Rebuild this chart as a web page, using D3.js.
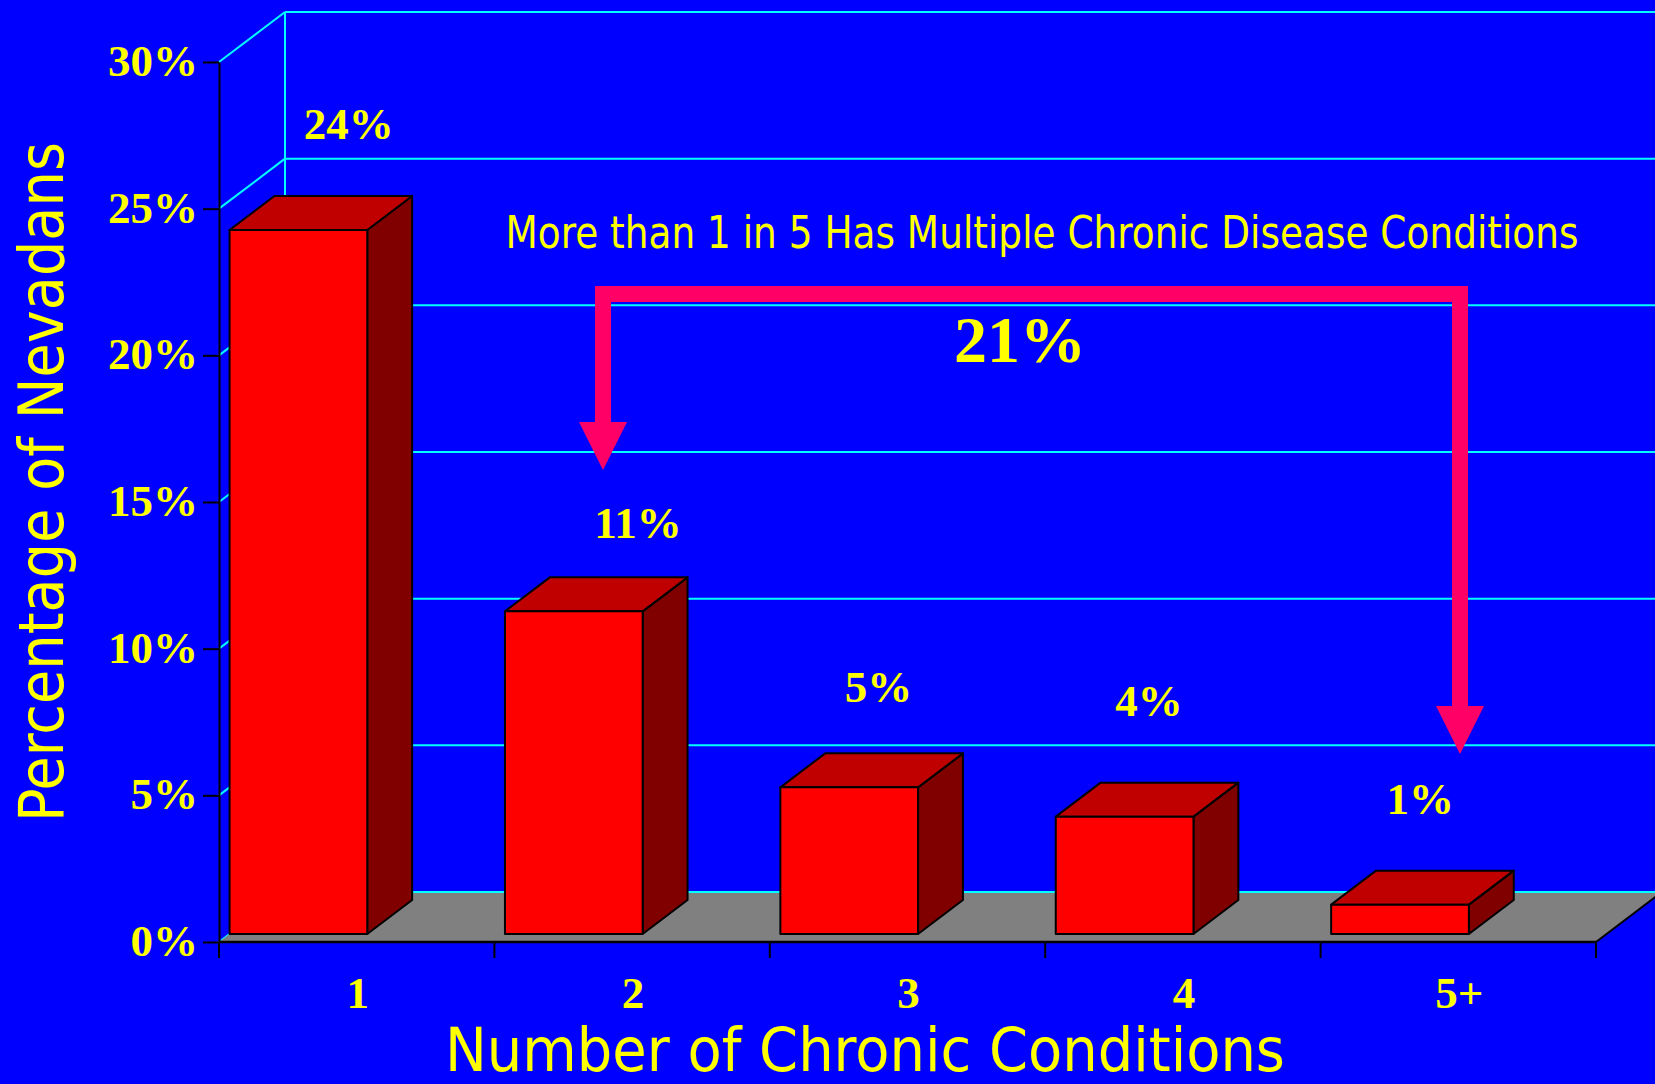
<!DOCTYPE html>
<html>
<head>
<meta charset="utf-8">
<script src="https://cdn.jsdelivr.net/npm/d3@7"></script>
<style>
  html, body { margin: 0; padding: 0; background: #0000ff; overflow: hidden; }
  svg { display: block; }
</style>
</head>
<body>
<svg id="chart" width="1655" height="1084"></svg>
<script>
// Share of Nevadans by number of chronic conditions
const categories = ["1", "2", "3", "4", "5+"];
const values = [24, 11, 5, 4, 1];
const yTicks = [0, 5, 10, 15, 20, 25, 30];
const valueLabels = ["24%", "11%", "5%", "4%", "1%"];
const multipleShare = "21%";

// Hand-placed label nudges (dx, dy) relative to the bar's top centre
const labelNudge = [[-8, 0], [6, 18], [-29, 6], [-34, -10], [-38, 0]];

const W = 1655, H = 1084;
const svg = d3.select("#chart");

const plot = { left: 219, right: 1596, bottom: 942, top: 62 };
const DEPTH = { dx: 66, dy: 50 };          // full depth of the 3D box
const barFront = 0.16, barBack = 0.84;     // bars occupy this slice of the depth

const x = d3.scaleBand().domain(categories).range([plot.left, plot.right]).padding(0);
const y = d3.scaleLinear().domain([0, 30]).range([plot.bottom, plot.top]);

// project a (screen x, value, depth fraction) point into the oblique view
const P = (px, v, f) => [px + f * DEPTH.dx, y(v) - f * DEPTH.dy];

const YELLOW = "#ffff00", CYAN = "#00ffff";
const serif = "'Liberation Serif', 'Times New Roman', serif";
const sans = "'DejaVu Sans Condensed', 'DejaVu Sans', Verdana, sans-serif";

svg.append("rect").attr("width", W).attr("height", H).attr("fill", "#0000ff");

// back wall gridlines
const grid = svg.append("g");
yTicks.forEach(t => {
  const a = P(plot.left, t, 1);
  grid.append("line")
    .attr("x1", a[0]).attr("y1", a[1]).attr("x2", W + 20).attr("y2", a[1])
    .attr("stroke", CYAN).attr("stroke-width", 2);
});
{
  const a = P(plot.left, 0, 1), b = P(plot.left, 30, 1);
  grid.append("line").attr("x1", a[0]).attr("y1", a[1]).attr("x2", b[0]).attr("y2", b[1])
    .attr("stroke", CYAN).attr("stroke-width", 2);
}

// floor
const floorPts = [P(plot.left, 0, 0), P(plot.right, 0, 0), P(plot.right, 0, 1), P(plot.left, 0, 1)];
svg.append("polygon").attr("points", floorPts.map(p => p.join(",")).join(" "))
  .attr("fill", "#808080");
svg.append("line")
  .attr("x1", floorPts[3][0]).attr("y1", floorPts[3][1]).attr("x2", W + 20).attr("y2", floorPts[3][1])
  .attr("stroke", CYAN).attr("stroke-width", 2);
svg.append("line")
  .attr("x1", floorPts[1][0]).attr("y1", floorPts[1][1]).attr("x2", floorPts[2][0]).attr("y2", floorPts[2][1])
  .attr("stroke", "#000").attr("stroke-width", 2);

// side wall lines
yTicks.forEach(t => {
  const a = P(plot.left, t, 0), b = P(plot.left, t, 1);
  grid.append("line").attr("x1", a[0]).attr("y1", a[1]).attr("x2", b[0]).attr("y2", b[1])
    .attr("stroke", CYAN).attr("stroke-width", 2);
});

// bars
const bw = x.bandwidth() / 2;
const bars = svg.append("g").attr("stroke", "#000").attr("stroke-width", 2).attr("stroke-linejoin", "round");
categories.forEach((c, i) => {
  const v = values[i];
  const x0 = x(c), x1 = x0 + bw;
  const fbl = P(x0, 0, barFront), fbr = P(x1, 0, barFront);
  const ftl = P(x0, v, barFront), ftr = P(x1, v, barFront);
  const btl = P(x0, v, barBack), btr = P(x1, v, barBack), bbr = P(x1, 0, barBack);
  const poly = pts => pts.map(p => p.join(",")).join(" ");
  bars.append("polygon").attr("points", poly([fbr, ftr, btr, bbr])).attr("fill", "#800000");
  bars.append("polygon").attr("points", poly([ftl, ftr, btr, btl])).attr("fill", "#c00000");
  bars.append("polygon").attr("points", poly([fbl, fbr, ftr, ftl])).attr("fill", "#ff0000");
});

// y axis
const yAxis = d3.axisLeft(y).tickValues(yTicks).tickFormat(d => d + "%")
  .tickSize(16).tickSizeOuter(0).tickPadding(5);
const gy = svg.append("g").attr("transform", `translate(${plot.left},0)`).call(yAxis);
gy.select(".domain").attr("stroke", "#000").attr("stroke-width", 2);
gy.selectAll(".tick line").attr("stroke", "#000").attr("stroke-width", 2);
gy.selectAll(".tick text")
  .attr("fill", YELLOW).attr("font-family", serif).attr("font-weight", "bold")
  .attr("font-size", 45).attr("dy", "0.3em");

// x axis baseline, boundary ticks and category labels
svg.append("line").attr("x1", plot.left).attr("x2", plot.right)
  .attr("y1", plot.bottom).attr("y2", plot.bottom).attr("stroke", "#000").attr("stroke-width", 2.5);
const bounds = categories.map(c => x(c)).concat([plot.right]);
svg.append("g").selectAll("line").data(bounds).join("line")
  .attr("x1", d => d).attr("x2", d => d).attr("y1", plot.bottom).attr("y2", plot.bottom + 16)
  .attr("stroke", "#000").attr("stroke-width", 2);
svg.append("g").selectAll("text").data(categories).join("text")
  .attr("x", d => x(d) + x.bandwidth() / 2 + 1).attr("y", 1008)
  .attr("text-anchor", "middle").attr("fill", YELLOW)
  .attr("font-family", serif).attr("font-weight", "bold").attr("font-size", 45)
  .text(d => d);

// value labels
svg.append("g").selectAll("text").data(categories).join("text")
  .attr("x", (d, i) => x(d) + x.bandwidth() / 2 + labelNudge[i][0])
  .attr("y", (d, i) => y(values[i]) - 99 + labelNudge[i][1])
  .attr("text-anchor", "middle").attr("fill", YELLOW)
  .attr("font-family", serif).attr("font-weight", "bold").attr("font-size", 45)
  .text((d, i) => valueLabels[i]);

// axis titles
svg.append("text")
  .attr("transform", "translate(63,482) rotate(-90)")
  .attr("text-anchor", "middle").attr("fill", YELLOW)
  .attr("font-family", sans).attr("font-size", 62)
  .attr("textLength", 680).attr("lengthAdjust", "spacingAndGlyphs")
  .text("Percentage of Nevadans");
svg.append("text")
  .attr("x", 865).attr("y", 1071)
  .attr("text-anchor", "middle").attr("fill", YELLOW)
  .attr("font-family", sans).attr("font-size", 60)
  .attr("textLength", 840).attr("lengthAdjust", "spacingAndGlyphs")
  .text("Number of Chronic Conditions");

// annotation
svg.append("text")
  .attr("x", 1042).attr("y", 248).attr("text-anchor", "middle").attr("fill", YELLOW)
  .attr("font-family", sans).attr("font-size", 44)
  .attr("textLength", 1073).attr("lengthAdjust", "spacingAndGlyphs")
  .text("More than 1 in 5 Has Multiple Chronic Disease Conditions");

// bracket arrow spanning categories 2 through 5+
const ARROW = "#ff0066";
const ax1 = 603, ax2 = 1460, ay = 294;
const head1 = 422, head2 = 706, headLen = 48, headHalf = 24;
svg.append("path")
  .attr("d", `M${ax1},${head1 + 2} L${ax1},${ay} L${ax2},${ay} L${ax2},${head2 + 2}`)
  .attr("fill", "none").attr("stroke", ARROW).attr("stroke-width", 16).attr("stroke-linejoin", "miter");
[[ax1, head1], [ax2, head2]].forEach(([hx, hy]) => {
  svg.append("polygon")
    .attr("points", `${hx - headHalf},${hy} ${hx + headHalf},${hy} ${hx},${hy + headLen}`)
    .attr("fill", ARROW);
});

svg.append("text")
  .attr("x", 1020).attr("y", 362).attr("text-anchor", "middle").attr("fill", YELLOW)
  .attr("font-family", serif).attr("font-weight", "bold").attr("font-size", 66)
  .text(multipleShare);
</script>
</body>
</html>
